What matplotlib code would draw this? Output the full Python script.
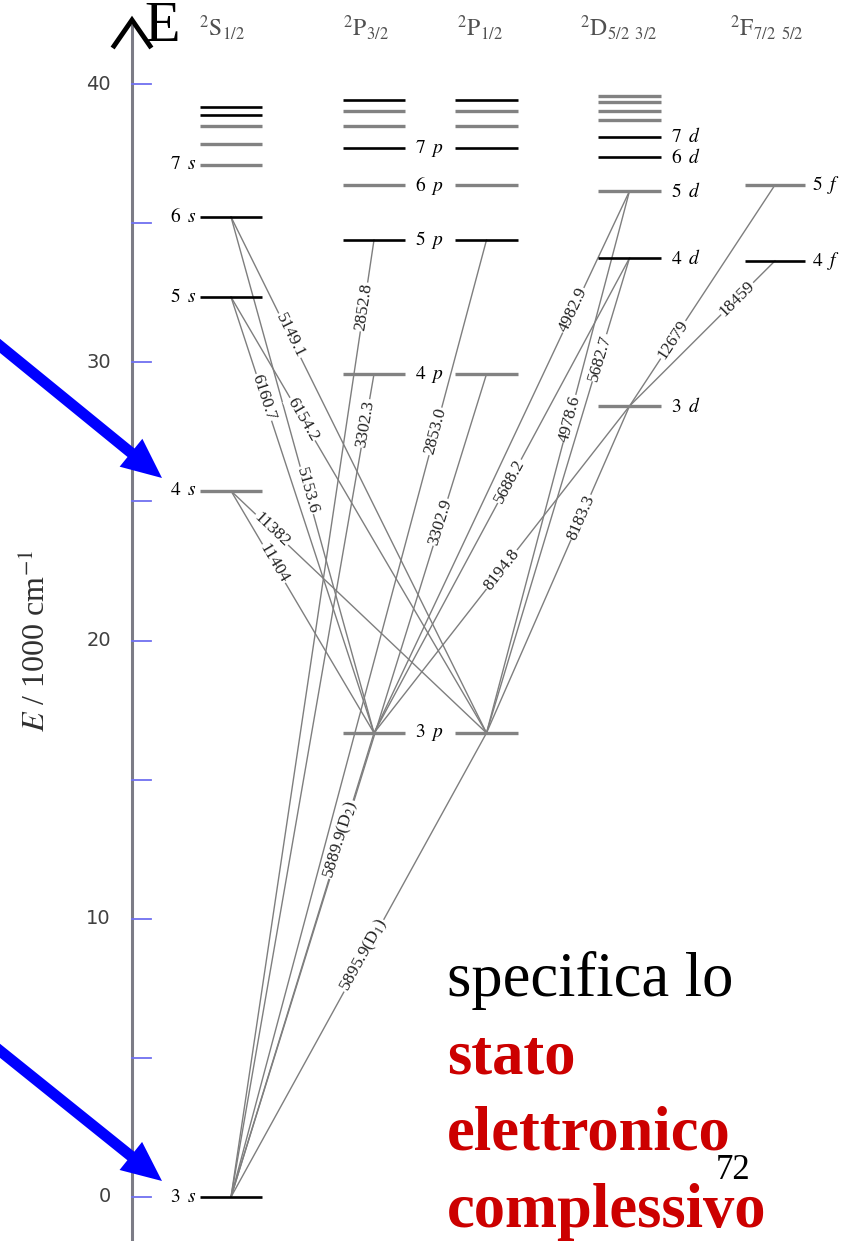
import numpy as np
import matplotlib
matplotlib.use('Agg')
import matplotlib.pyplot as plt
from matplotlib.patches import FancyArrow

plt.rcParams['mathtext.fontset'] = 'stix'
plt.rcParams['font.family'] = ['Liberation Serif', 'DejaVu Serif']

# ---------------- data: term energies (1000 cm^-1) ----------------
s_energy = [0.0, 25.38, 32.35, 35.23, 37.10, 37.86, 38.51, 38.88, 39.19]
p_energy = [16.68, 29.58, 34.40, 36.36, 37.70, 38.51, 39.05, 39.43]
d_energy = [28.43, 33.75, 36.16, 37.37, 38.11, 38.71, 39.05, 39.37, 39.58]
f_energy = [33.65, 36.38]

s_names = ['3', '4', '5', '6', '7']
p_names = ['3', '4', '5', '6', '7']
d_names = ['3', '4', '5', '6', '7']
f_names = ['4', '5']

term_symbols = [r'$^{2}\mathrm{S}_{1/2}$', r'$^{2}\mathrm{P}_{3/2}$', r'$^{2}\mathrm{P}_{1/2}$',
                r'$^{2}\mathrm{D}_{5/2\;\;3/2}$', r'$^{2}\mathrm{F}_{7/2\;\;5/2}$']

energy_ticks = [0, 5, 10, 15, 20, 25, 30, 35, 40]
energy_tick_labels = ['0', '', '10', '', '20', '', '30', '', '40']

# transitions: (lower term, index), (upper term, index), wavelength / Angstrom
trans_lower = [('S', 0), ('S', 0), ('S', 0), ('S', 0), ('S', 0), ('S', 0),
               ('P3', 0), ('P1', 0), ('P3', 0), ('P1', 0), ('P3', 0), ('P1', 0),
               ('P3', 0), ('P1', 0), ('P3', 0), ('P1', 0), ('P3', 0), ('P1', 0),
               ('D', 0), ('D', 0)]
trans_upper = [('P3', 0), ('P1', 0), ('P3', 1), ('P1', 1), ('P3', 2), ('P1', 2),
               ('S', 1), ('S', 1), ('S', 2), ('S', 2), ('S', 3), ('S', 3),
               ('D', 0), ('D', 0), ('D', 1), ('D', 1), ('D', 2), ('D', 2),
               ('F', 0), ('F', 1)]
trans_labels = [r'5889.9(D$_2$)', r'5895.9(D$_1$)', '3302.3', '3302.9', '2852.8', '2853.0',
                '11404', '11382', '6160.7', '6154.2', '5153.6', '5149.1',
                '8194.8', '8183.3', '5688.2', '5682.7', '4982.9', '4978.6',
                '18459', '12679']

# ---------------- layout / style (not data) ----------------
W, H = 854, 1241
Y0, SCALE = 1197.0, 27.82           # pixel row of E=0, pixels per 1000 cm^-1
label_frac = [0.77, 0.52, 0.94, 0.82, 0.93, 0.80,
              0.70, 0.84, 0.77, 0.72, 0.47, 0.77,
              0.50, 0.66, 0.53, 0.79, 0.78, 0.58,
              0.74, 0.30]
columns = {'S': (200, 262), 'P3': (343, 405), 'P1': (455, 518), 'D': (598, 661), 'F': (745, 805)}
energies = {'S': s_energy, 'P3': p_energy, 'P1': p_energy, 'D': d_energy, 'F': f_energy}
dark = {'S': [1, 0, 1, 1, 0, 0, 0, 1, 1],
        'P3': [0, 0, 1, 0, 1, 0, 0, 1],
        'P1': [0, 0, 1, 0, 1, 0, 0, 1],
        'D': [0, 1, 0, 1, 1, 0, 0, 0, 0],
        'F': [1, 0]}
GREY = '#828282'

fig = plt.figure(figsize=(W / 100, H / 100), dpi=100)
ax = fig.add_axes([0, 0, 1, 1])
ax.set_xlim(0, W)
ax.set_ylim((Y0 - H) / SCALE, Y0 / SCALE)
ax.axis('off')

# overlay in pixel coordinates for decorations
ov = fig.add_axes([0, 0, 1, 1], zorder=5)
ov.set_xlim(0, W)
ov.set_ylim(H, 0)
ov.axis('off')
ov.patch.set_alpha(0)

def xc(col):
    a, b = columns[col]
    return 0.5 * (a + b)

# energy axis
ax.plot([132, 132], [(Y0 - H) / SCALE, (Y0 - 26) / SCALE], color='#7c7c86', lw=2.2, zorder=2)
for t, lab in zip(energy_ticks, energy_tick_labels):
    ax.plot([132, 151], [t, t], color='#7070f0', lw=1.3, zorder=3)
    if lab:
        ax.text(111, t, lab, ha='right', va='center', fontsize=14,
                family='DejaVu Sans', color='#404040')
ov.plot([114, 132, 150], [46, 20, 46], color='black', lw=3.5, solid_joinstyle='miter')
ov.text(144, 41, 'E', fontsize=42, color='black', ha='left', va='baseline')
ax.text(36, 20.0, r'$E$ / 1000 cm$^{-1}$', rotation=90, ha='center', va='center',
        fontsize=23, color='#303030')

# transitions
for (lc, li), (uc, ui), lab, fr in zip(trans_lower, trans_upper, trans_labels, label_frac):
    x0, e0 = xc(lc), energies[lc][li]
    x1, e1 = xc(uc), energies[uc][ui]
    ax.plot([x0, x1], [e0, e1], color='#7e7e7e', lw=1.0, zorder=3)
    xm, em = x0 + fr * (x1 - x0), e0 + fr * (e1 - e0)
    p0 = ax.transData.transform((x0, e0))
    p1 = ax.transData.transform((x1, e1))
    ang = np.degrees(np.arctan2(p1[1] - p0[1], p1[0] - p0[0]))
    if ang > 90:
        ang -= 180
    ax.text(xm, em, lab, rotation=ang, rotation_mode='anchor', ha='center', va='center',
            fontsize=12.5, color='#202020', zorder=4,
            bbox=dict(facecolor='white', edgecolor='none', pad=0.6))

# energy levels
for col, (a, b) in columns.items():
    for e, d in zip(energies[col], dark[col]):
        ax.plot([a, b], [e, e], color='black' if d else GREY,
                lw=1.9 if d else 2.4, solid_capstyle='butt', zorder=6)

# level labels
for n, e in zip(s_names, s_energy):
    ax.text(197, e, rf'${n}\;\;s$', ha='right', va='center', fontsize=14)
for n, e in zip(p_names, p_energy):
    ax.text(415, e, rf'${n}\;\;p$', ha='left', va='center', fontsize=14)
for n, e in zip(d_names, d_energy):
    ax.text(671, e, rf'${n}\;\;d$', ha='left', va='center', fontsize=14)
for n, e in zip(f_names, f_energy):
    ax.text(812, e, rf'${n}\;\;f$', ha='left', va='center', fontsize=14)

# term symbols
for sym, x in zip(term_symbols, [199, 343, 457, 580, 730]):
    ov.text(x, 13, sym, ha='left', va='top', fontsize=17, color='#505050')

# blue arrows
for (xa, ya, xb, yb) in [(-6, 341, 162, 478), (-6, 1046, 162, 1181)]:
    ov.add_patch(FancyArrow(xa, ya, xb - xa, yb - ya, width=11, head_width=36,
                            head_length=40, length_includes_head=True,
                            color='#0000ff', lw=0))

# caption text
ov.text(447, 996, 'specifica lo', fontsize=45, color='black', va='baseline')
ov.text(447, 1073, 'stato', fontsize=45, color='#cc0000', weight='bold', va='baseline')
ov.text(447, 1150, 'elettronico', fontsize=45, color='#cc0000', weight='bold', va='baseline')
ov.text(447, 1227, 'complessivo', fontsize=45, color='#cc0000', weight='bold', va='baseline')
ov.text(716, 1179, '72', fontsize=25, color='black', va='baseline')

fig.savefig('out.png', dpi=100)
